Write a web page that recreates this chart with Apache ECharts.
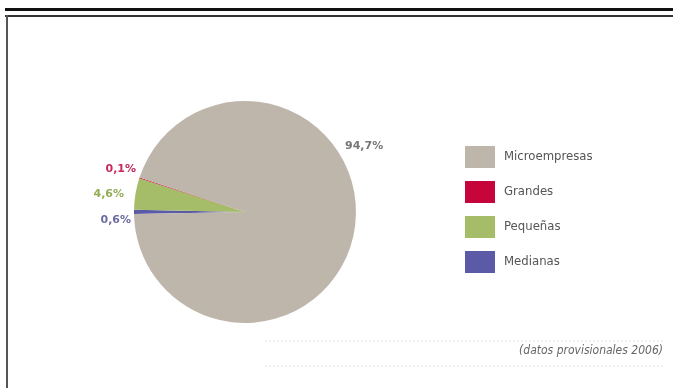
<!DOCTYPE html>
<html>
<head>
<meta charset="utf-8">
<script src="https://cdn.jsdelivr.net/npm/echarts@6/dist/echarts.min.js"></script>
<style>
    html, body { margin: 0; padding: 0; background: #fff; }
    #main { width: 673px; height: 388px; }
</style>
</head>
<body>
<div id="main"></div>
<script>
// datos (orden horario desde la izquierda)
var categorias = ['Medianas', 'Pequeñas', 'Grandes', 'Microempresas'];
var porcentajes = [0.6, 4.6, 0.1, 94.7];
var colores = ['#5a5aa6', '#a5bd68', '#c6053b', '#bfb6ab'];
var leyenda = ['Microempresas', 'Grandes', 'Pequeñas', 'Medianas'];
var nota = '(datos provisionales 2006)';

var colorEtiqueta = ['#6b6ba3', '#93ad55', '#c42a5a', '#777777'];
// sitio de cada etiqueta (x, y, alineación)
var sitioEtiqueta = [
    [131, 220, 'right'],
    [124, 194, 'right'],
    [136, 169, 'right'],
    [345, 146, 'left']
];

var myChart = echarts.init(document.getElementById('main'));

var list = [];
for (var i = 0; i < categorias.length; i++) {
    list.push({
        name: categorias[i],
        value: porcentajes[i],
        itemStyle: { color: colores[i] },
        label: { color: colorEtiqueta[i] }
    });
}

var option = {
    animation: false,
    legend: {
        data: leyenda,
        orient: 'vertical',
        left: 465,
        top: 146,
        padding: 0,
        itemWidth: 30,
        itemHeight: 22,
        itemGap: 13,
        icon: 'rect',
        textStyle: {
            fontFamily: 'DejaVu Sans Condensed, DejaVu Sans, sans-serif',
            fontSize: 13,
            color: '#555',
            padding: [0, 0, 0, 4]
        }
    },
    graphic: [
        // marco
        { type: 'rect', shape: { x: 5, y: 8, width: 668, height: 3 }, style: { fill: '#111' } },
        { type: 'rect', shape: { x: 5, y: 15, width: 668, height: 2 }, style: { fill: '#333' } },
        { type: 'rect', shape: { x: 6, y: 15, width: 2, height: 373 }, style: { fill: '#555' } },
        // líneas punteadas de la nota
        { type: 'line', shape: { x1: 265, y1: 341, x2: 665, y2: 341 }, style: { stroke: '#e2e2e2', lineWidth: 1, lineDash: [2, 2] } },
        { type: 'line', shape: { x1: 265, y1: 366, x2: 665, y2: 366 }, style: { stroke: '#e2e2e2', lineWidth: 1, lineDash: [2, 2] } },
        {
            type: 'text',
            right: 10,
            top: 345,
            style: {
                text: nota,
                fontFamily: 'DejaVu Sans Condensed, DejaVu Sans, sans-serif',
                fontStyle: 'italic',
                fontSize: 12,
                fill: '#666'
            }
        }
    ],
    series: [
        {
            name: 'Empresas',
            type: 'pie',
            center: [245, 212],
            radius: 111,
            startAngle: 181,
            clockwise: true,
            avoidLabelOverlap: false,
            data: list,
            label: {
                show: true,
                position: 'outside',
                fontFamily: 'DejaVu Sans, sans-serif',
                fontSize: 11,
                fontWeight: 'bold',
                formatter: function (p) {
                    return String(p.value).replace('.', ',') + '%';
                }
            },
            labelLine: { show: false },
            labelLayout: function (params) {
                var s = sitioEtiqueta[params.dataIndex];
                return { x: s[0], y: s[1], align: s[2], verticalAlign: 'middle' };
            },
            emphasis: { disabled: true }
        }
    ]
};
myChart.setOption(option);
</script>
</body>
</html>
